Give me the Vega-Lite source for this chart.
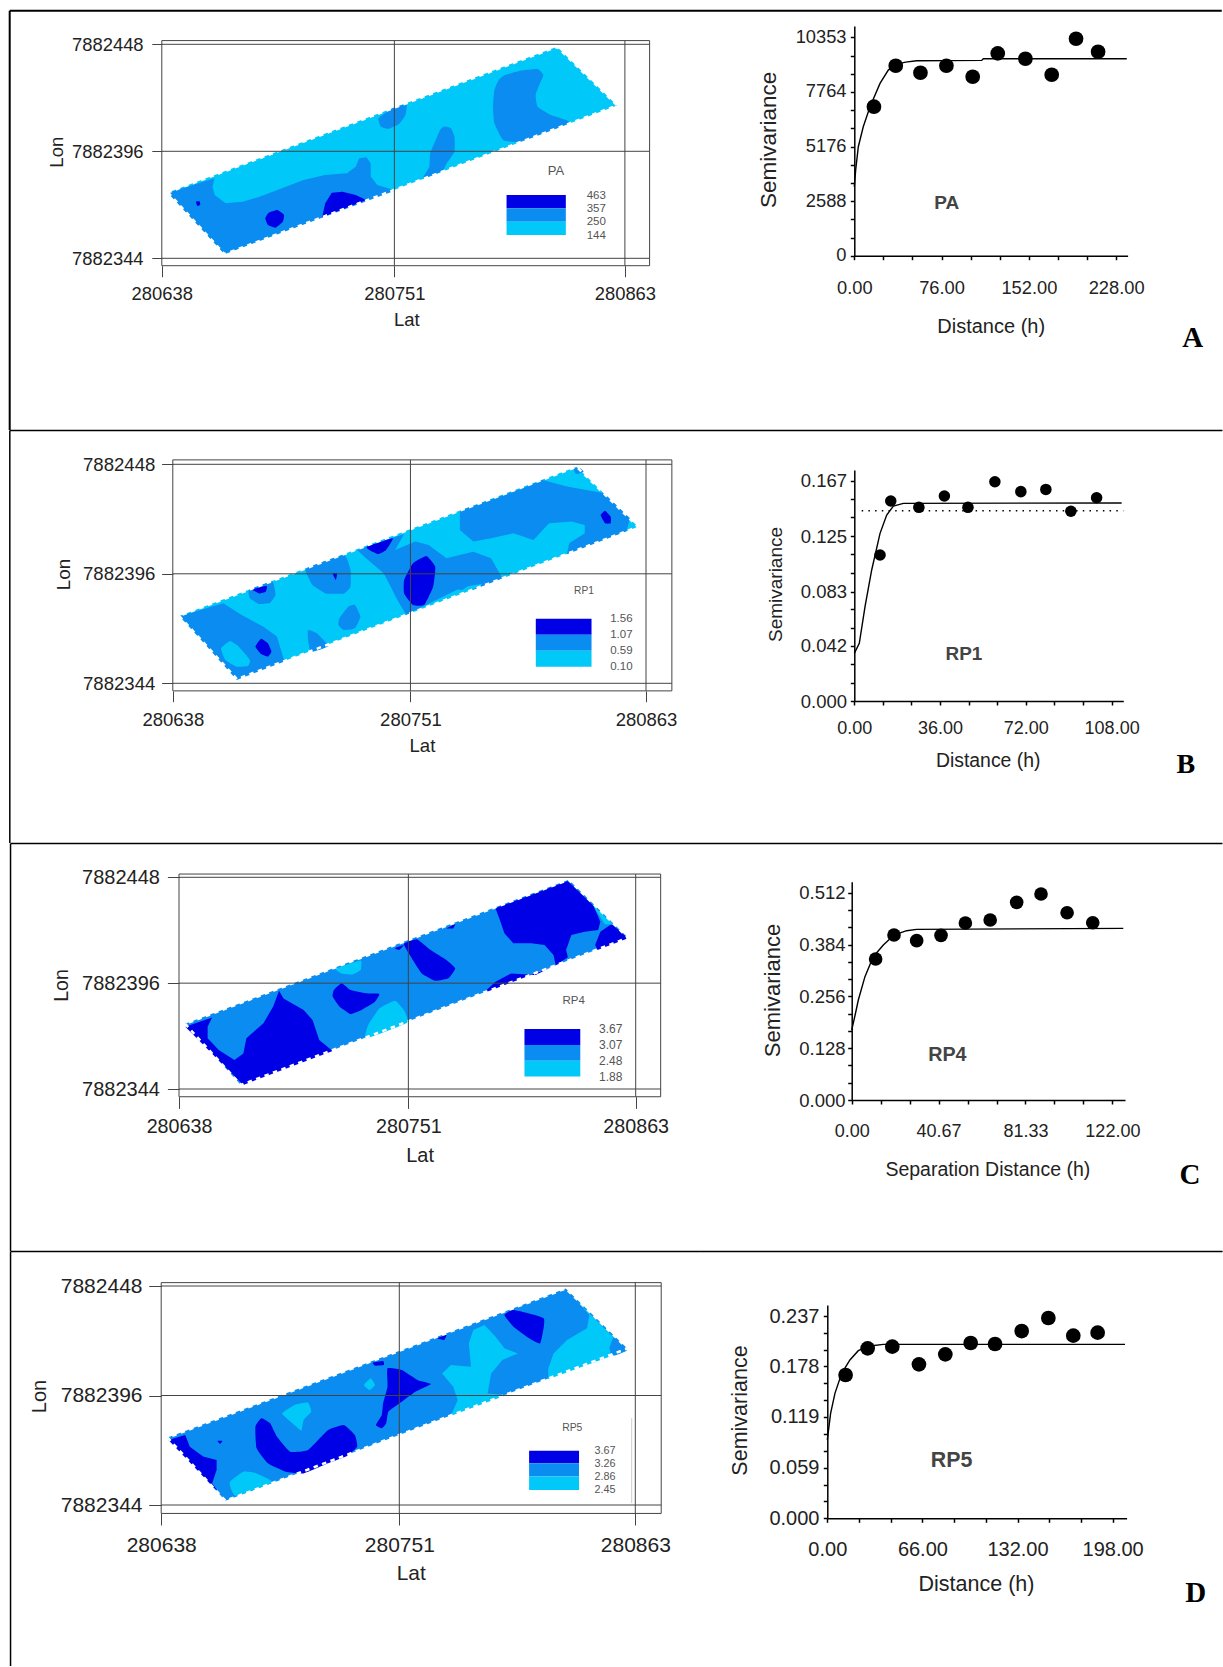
{"$schema":"https://vega.github.io/schema/vega-lite/v6.json","padding":0,"background":"white","config":{"view":{"stroke":null},"font":"Liberation Sans"},"columns":2,"spacing":0,"bounds":"flush","concat":[
{"width":700,"height":430,"encoding":{"x":{"field":"e","type":"quantitative","scale":{"domain":[0,225],"range":[161.8,624.9],"zero":false,"nice":false},"axis":{"values":[0,113,225],"labelExpr":"format(datum.value+280638,'d')","domain":false,"grid":false,"tickSize":11,"tickColor":"#444","labelPadding":7.5,"labelFontSize":18.4,"labelColor":"#222","labelFlush":false,"labelOverlap":false,"offset":-164.3,"title":"Lat","titleX":406.3,"titleY":53.3,"titleFontSize":18.5,"titleFontWeight":"normal","titleColor":"#222","titleBaseline":"middle","titleAlign":"center"}},"y":{"field":"n","type":"quantitative","scale":{"domain":[0,104],"range":[258.3,44.3],"zero":false,"nice":false},"axis":{"values":[0,52,104],"labelExpr":"format(datum.value+7882344,'d')","domain":false,"grid":false,"tickSize":10,"tickColor":"#444","labelPadding":8.7,"labelFontSize":18.4,"labelColor":"#222","labelOverlap":false,"labelFlush":false,"offset":-161.8,"title":"Lon","titleX":-105.4,"titleY":151.7,"titleAngle":-90,"titleFontSize":18.5,"titleFontWeight":"normal","titleColor":"#222","titleBaseline":"middle","titleAlign":"center"}}},"layer":[
{"data":{"values":[{"p":"f","l":"l","e":3,"n":32},{"p":"f","l":"l","e":30.5,"n":2},{"p":"f","l":"l","e":221.2,"n":74.3},{"p":"f","l":"l","e":192,"n":102.8},
{"p":"m1","l":"m","e":2.9,"n":31.9},{"p":"m1","l":"m","e":25.7,"n":38.9},{"p":"m1","l":"m","e":24.6,"n":34.8},{"p":"m1","l":"m","e":25.7,"n":30.8},{"p":"m1","l":"m","e":31,"n":26.7},{"p":"m1","l":"m","e":39.4,"n":27.5},{"p":"m1","l":"m","e":47.8,"n":30},{"p":"m1","l":"m","e":58.4,"n":34},{"p":"m1","l":"m","e":68.9,"n":38.1},{"p":"m1","l":"m","e":79.4,"n":40.5},{"p":"m1","l":"m","e":90,"n":41.3},{"p":"m1","l":"m","e":94.2,"n":44.5},{"p":"m1","l":"m","e":95.9,"n":48.6},{"p":"m1","l":"m","e":99.4,"n":49.1},{"p":"m1","l":"m","e":101.5,"n":46.2},{"p":"m1","l":"m","e":101.5,"n":39.7},{"p":"m1","l":"m","e":104.7,"n":35.6},{"p":"m1","l":"m","e":113.5,"n":32.9},{"p":"m1","l":"m","e":30.5,"n":2.1},
{"p":"d2","l":"d","e":77.9,"n":19.9},{"p":"d2","l":"d","e":79.4,"n":26.7},{"p":"d2","l":"d","e":82.6,"n":31.9},{"p":"d2","l":"d","e":87.8,"n":32.4},{"p":"d2","l":"d","e":94.2,"n":30.8},{"p":"d2","l":"d","e":99.4,"n":28.3}]},"mark":{"type":"line","strokeWidth":0,"interpolate":"linear-closed"},"encoding":{"fill":{"field":"l","type":"nominal","scale":{"domain":["d","m","l"],"range":["#0000e6","#0a8cf0","#00c8f8"]},"legend":null},"detail":{"field":"p"},"order":{"value":null}}},
{"data":{"values":[{"p":"m2","l":"m","e":111.6,"n":72.7},{"p":"m2","l":"m","e":118.8,"n":75},{"p":"m2","l":"m","e":118.4,"n":69.7},{"p":"m2","l":"m","e":115.2,"n":65.3},{"p":"m2","l":"m","e":110,"n":62.9},{"p":"m2","l":"m","e":106.4,"n":64},{"p":"m2","l":"m","e":105.3,"n":68},
{"p":"m3","l":"m","e":137.3,"n":64},{"p":"m3","l":"m","e":140.5,"n":63.2},{"p":"m3","l":"m","e":142.2,"n":59.1},{"p":"m3","l":"m","e":142.2,"n":51.8},{"p":"m3","l":"m","e":138.4,"n":46.2},{"p":"m3","l":"m","e":136.3,"n":42.3},{"p":"m3","l":"m","e":126.8,"n":38.7},{"p":"m3","l":"m","e":130,"n":44.5},{"p":"m3","l":"m","e":130.4,"n":51},{"p":"m3","l":"m","e":133.1,"n":57.5},{"p":"m3","l":"m","e":135.2,"n":62.4},
{"p":"m4","l":"m","e":166.8,"n":89.1},{"p":"m4","l":"m","e":174.2,"n":91.2},{"p":"m4","l":"m","e":182.6,"n":92},{"p":"m4","l":"m","e":185.4,"n":89.1},{"p":"m4","l":"m","e":183.7,"n":85},{"p":"m4","l":"m","e":181.6,"n":79.4},{"p":"m4","l":"m","e":182.6,"n":73.7},{"p":"m4","l":"m","e":189,"n":69.7},{"p":"m4","l":"m","e":198.4,"n":65.9},{"p":"m4","l":"m","e":174.2,"n":56.7},{"p":"m4","l":"m","e":165.8,"n":57.5},{"p":"m4","l":"m","e":161.6,"n":65.6},{"p":"m4","l":"m","e":160.9,"n":73.7},{"p":"m4","l":"m","e":161.6,"n":81.8},{"p":"m4","l":"m","e":163.7,"n":86.7},
{"p":"d1","l":"d","e":50.3,"n":19.4},{"p":"d1","l":"d","e":52,"n":22.2},{"p":"d1","l":"d","e":56.2,"n":23.5},{"p":"d1","l":"d","e":59.4,"n":21.1},{"p":"d1","l":"d","e":58.8,"n":17.8},{"p":"d1","l":"d","e":55.2,"n":14.9},{"p":"d1","l":"d","e":51.6,"n":16.2},
{"p":"d3","l":"d","e":16.6,"n":27.5},{"p":"d3","l":"d","e":18.3,"n":27.7},{"p":"d3","l":"d","e":18.7,"n":26.2},{"p":"d3","l":"d","e":17.3,"n":25.4}]},"mark":{"type":"line","strokeWidth":0,"interpolate":"cardinal-closed","tension":0.6},"encoding":{"fill":{"field":"l","type":"nominal","legend":null},"detail":{"field":"p"},"order":{"value":null}}},
{"data":{"values":[{"e":3,"n":32},{"e":30.5,"n":2},{"e":221.2,"n":74.3},{"e":192,"n":102.8}]},"mark":{"type":"line","color":"white","strokeWidth":2.5,"strokeDash":[4.5,4.5],"interpolate":"linear-closed"},"encoding":{"order":{"value":null}}},
{"data":{"values":[{"e":0,"e2":237,"n":105.8,"n2":105.8},{"e":0,"e2":237,"n":-3.6,"n2":-3.6},{"e":0,"e2":237,"n":104,"n2":104},{"e":0,"e2":237,"n":52,"n2":52},{"e":0,"e2":237,"n":0,"n2":0},{"e":0,"e2":0,"n":-3.6,"n2":105.8},{"e":113,"e2":113,"n":-3.6,"n2":105.8},{"e":225,"e2":225,"n":-3.6,"n2":105.8},{"e":237,"e2":237,"n":-3.6,"n2":105.8}]},"mark":{"type":"rule","color":"#444","strokeWidth":1},"encoding":{"x2":{"field":"e2"},"y2":{"field":"n2"}}},
{"data":{"values":[{"e":-73.9,"e2":261.5,"n":120.3,"n2":120.3},{"e":-73.9,"e2":-73.9,"n":120.3,"n2":-83.4}]},"mark":{"type":"rule","color":"#000","strokeWidth":2},"encoding":{"x2":{"field":"e2"},"y2":{"field":"n2"}}},
{"data":{"values":[{"e":167.5,"e2":196.3,"n":30.8,"n2":24.3,"l":"d"},{"e":167.5,"e2":196.3,"n":24.3,"n2":17.8,"l":"m"},{"e":167.5,"e2":196.3,"n":17.8,"n2":11.3,"l":"l"}]},"mark":{"type":"rect"},"encoding":{"x2":{"field":"e2"},"y2":{"field":"n2"},"fill":{"field":"l","type":"nominal","legend":null}}},
{"data":{"values":[{"e":211.1,"n":30.5,"t":"463"},{"e":211.1,"n":24,"t":"357"},{"e":211.1,"n":17.5,"t":"250"},{"e":211.1,"n":10.9,"t":"144"}]},"mark":{"type":"text","fontSize":11.5,"color":"#555"},"encoding":{"text":{"field":"t"}}},
{"data":{"values":[{"e":191.5,"n":42.4,"t":"PA"}]},"mark":{"type":"text","fontSize":13,"color":"#555"},"encoding":{"text":{"field":"t"}}}
]},
{"width":523,"height":430,"encoding":{"x":{"field":"h","type":"quantitative","scale":{"domain":[0,238],"range":[154.3,427.6],"zero":false,"nice":false},"axis":{"values":[0,25.33,50.67,76,101.33,126.67,152,177.33,202.67,228],"labelExpr":"indexof([0,76,152,228],datum.value)>=0?format(datum.value,'.2f'):''","grid":false,"domainColor":"#000","domainWidth":1.5,"tickColor":"#000","tickWidth":1.5,"tickSize":4,"labelPadding":19.5,"labelFontSize":18.3,"labelColor":"#222","labelFlush":false,"labelOverlap":false,"offset":-174.3,"title":"Distance (h)","titleX":290.7,"titleY":70.3,"titleFontSize":20,"titleFontWeight":"normal","titleColor":"#222","titleBaseline":"middle","titleAlign":"center","encoding":{"ticks":{"update":{"y":{"value":-4},"y2":{"value":3.5}}}}}},"y":{"field":"g","type":"quantitative","scale":{"domain":[0,10890],"range":[255.7,26],"zero":false,"nice":false},"axis":{"values":[0,862.67,1725.33,2588,3450.67,4313.33,5176,6038.67,6901.33,7764,8627,9490,10353],"labelExpr":"indexof([0,2588,5176,7764,10353],datum.value)>=0?format(datum.value,'d'):''","grid":false,"domainColor":"#000","domainWidth":1.5,"tickColor":"#000","tickWidth":1.5,"tickSize":4,"labelPadding":4.3,"labelFontSize":18.3,"labelColor":"#222","labelFlush":false,"labelOverlap":false,"offset":-154.3,"title":"Semivariance","titleX":-86,"titleY":139.3,"titleAngle":-90,"titleFontSize":22.5,"titleFontWeight":"normal","titleColor":"#222","titleBaseline":"middle","titleAlign":"center","encoding":{"ticks":{"update":{"x":{"value":-4},"x2":{"value":3.5}}}}}}},"layer":[
{"data":{"values":[{"h":-134.4,"h2":320,"g":11617,"g2":11617}]},"mark":{"type":"rule","color":"#000","strokeWidth":2},"encoding":{"x2":{"field":"h2"},"y2":{"field":"g2"}}},
{"data":{"values":[{"h":0,"g":3271},{"h":1.2,"g":4061},{"h":3.5,"g":5167},{"h":7.8,"g":6115},{"h":13.7,"g":7063},{"h":22.4,"g":8169},{"h":29.6,"g":8801},{"h":36.9,"g":9085},{"h":44.7,"g":9180},{"h":54.3,"g":9243},{"h":110.9,"g":9259},{"h":112.4,"g":9338},{"h":237.3,"g":9338}]},"mark":{"type":"line","color":"#000","strokeWidth":1.4}},
{"data":{"values":[{"h":17.1,"g":7063},{"h":36.1,"g":9006},{"h":57.6,"g":8674},{"h":80.2,"g":9006},{"h":103.1,"g":8485},{"h":124.9,"g":9591},{"h":149,"g":9338},{"h":171.9,"g":8579},{"h":193.1,"g":10286},{"h":212.3,"g":9670}]},"mark":{"type":"circle","color":"#000","opacity":1,"size":216}},
{"data":{"values":[{"h":80.5,"g":2481,"t":"PA"}]},"mark":{"type":"text","fontSize":19,"fontWeight":"bold","color":"#444"},"encoding":{"text":{"field":"t"}}},
{"data":{"values":[{"h":294.7,"g":-3902,"t":"A"}]},"mark":{"type":"text","font":"Liberation Serif","fontSize":29,"fontWeight":"bold","color":"#000"},"encoding":{"text":{"field":"t"}}}
]},
{"width":700,"height":413,"encoding":{"x":{"field":"e","type":"quantitative","scale":{"domain":[0,225],"range":[172.8,646],"zero":false,"nice":false},"axis":{"values":[0,113,225],"labelExpr":"format(datum.value+280638,'d')","domain":false,"grid":false,"tickSize":10.7,"tickColor":"#444","labelPadding":9,"labelFontSize":18.5,"labelColor":"#222","labelFlush":false,"labelOverlap":false,"offset":-152,"title":"Lat","titleX":421.9,"titleY":54,"titleFontSize":18.6,"titleFontWeight":"normal","titleColor":"#222","titleBaseline":"middle","titleAlign":"center"}},"y":{"field":"n","type":"quantitative","scale":{"domain":[0,104],"range":[253.3,34.3],"zero":false,"nice":false},"axis":{"values":[0,52,104],"labelExpr":"format(datum.value+7882344,'d')","domain":false,"grid":false,"tickSize":11.2,"tickColor":"#444","labelPadding":6.7,"labelFontSize":18.6,"labelColor":"#222","labelOverlap":false,"labelFlush":false,"offset":-172.8,"title":"Lon","titleX":-109.4,"titleY":144,"titleAngle":-90,"titleFontSize":18.8,"titleFontWeight":"normal","titleColor":"#222","titleBaseline":"middle","titleAlign":"center"}}},"layer":[
{"data":{"values":[{"p":"f","l":"l","e":3,"n":32},{"p":"f","l":"l","e":30.5,"n":2},{"p":"f","l":"l","e":221.2,"n":74.3},{"p":"f","l":"l","e":192,"n":102.8},
{"p":"m1","l":"m","e":3.4,"n":32},{"p":"m1","l":"m","e":24,"n":38},{"p":"m1","l":"m","e":32.5,"n":32.5},{"p":"m1","l":"m","e":43.1,"n":26.9},{"p":"m1","l":"m","e":49.5,"n":22.2},{"p":"m1","l":"m","e":53.1,"n":10.3},{"p":"m1","l":"m","e":30.4,"n":1.6},
{"p":"m5","l":"m","e":87.7,"n":63.3},{"p":"m5","l":"m","e":110,"n":70.9},{"p":"m5","l":"m","e":105.7,"n":63.3},{"p":"m5","l":"m","e":115.3,"n":67.3},{"p":"m5","l":"m","e":121.6,"n":65.7},{"p":"m5","l":"m","e":130.1,"n":59.4},{"p":"m5","l":"m","e":142.9,"n":62.5},{"p":"m5","l":"m","e":151.3,"n":59.4},{"p":"m5","l":"m","e":156.7,"n":49.9},{"p":"m5","l":"m","e":141.8,"n":44},{"p":"m5","l":"m","e":135.4,"n":44.6},{"p":"m5","l":"m","e":111,"n":32.5},{"p":"m5","l":"m","e":106.8,"n":39.6},{"p":"m5","l":"m","e":100.4,"n":52.2},{"p":"m5","l":"m","e":91.9,"n":59.4},
{"p":"m6","l":"m","e":136.5,"n":82},{"p":"m6","l":"m","e":168.3,"n":93.4},{"p":"m6","l":"m","e":175.8,"n":96.6},{"p":"m6","l":"m","e":187.4,"n":93.4},{"p":"m6","l":"m","e":205.1,"n":90.2},{"p":"m6","l":"m","e":217.4,"n":78.4},{"p":"m6","l":"m","e":215.7,"n":72.2},{"p":"m6","l":"m","e":187.4,"n":61.3},{"p":"m6","l":"m","e":188.5,"n":66.5},{"p":"m6","l":"m","e":195.9,"n":71.2},{"p":"m6","l":"m","e":195.9,"n":75.2},{"p":"m6","l":"m","e":189.6,"n":76.8},{"p":"m6","l":"m","e":178.9,"n":76},{"p":"m6","l":"m","e":171.5,"n":68.1},{"p":"m6","l":"m","e":162,"n":71.2},{"p":"m6","l":"m","e":151.3,"n":68.9},{"p":"m6","l":"m","e":142.9,"n":67.3},{"p":"m6","l":"m","e":136.5,"n":72.8}]},"mark":{"type":"line","strokeWidth":0,"interpolate":"linear-closed"},"encoding":{"fill":{"field":"l","type":"nominal","scale":{"domain":["d","m","l"],"range":["#0000e6","#0a8cf0","#00c8f8"]},"legend":null},"detail":{"field":"p"},"order":{"value":null}}},
{"data":{"values":[{"p":"b1","l":"m","e":36.3,"n":44.3},{"p":"b1","l":"m","e":47.3,"n":48.3},{"p":"b1","l":"m","e":48.8,"n":41.9},{"p":"b1","l":"m","e":46.3,"n":38.3},{"p":"b1","l":"m","e":41,"n":37.7},{"p":"b1","l":"m","e":36.7,"n":40.4},
{"p":"b2","l":"m","e":63.5,"n":54.6},{"p":"b2","l":"m","e":81.3,"n":60.9},{"p":"b2","l":"m","e":84.5,"n":53.8},{"p":"b2","l":"m","e":84.5,"n":45.9},{"p":"b2","l":"m","e":81.3,"n":42.7},{"p":"b2","l":"m","e":72.8,"n":42.7},{"p":"b2","l":"m","e":66.4,"n":46.7},{"p":"b2","l":"m","e":64.3,"n":50.7},
{"p":"b3","l":"m","e":79.2,"n":30.9},{"p":"b3","l":"m","e":83.4,"n":36.4},{"p":"b3","l":"m","e":86.6,"n":37.2},{"p":"b3","l":"m","e":89.2,"n":31.7},{"p":"b3","l":"m","e":86.6,"n":26.1},{"p":"b3","l":"m","e":81.3,"n":25.3},{"p":"b3","l":"m","e":78.8,"n":27.7},
{"p":"b4","l":"m","e":64.3,"n":25.3},{"p":"b4","l":"m","e":68.6,"n":23.7},{"p":"b4","l":"m","e":73.9,"n":17.7},{"p":"b4","l":"m","e":65.8,"n":14.9},{"p":"b4","l":"m","e":64.3,"n":20.6},
{"p":"b5","l":"m","e":190.6,"n":102.1},{"p":"b5","l":"m","e":193.8,"n":102.1},{"p":"b5","l":"m","e":195.3,"n":100.5},{"p":"b5","l":"m","e":191.7,"n":99.4},
{"p":"l1","l":"l","e":22.9,"n":16.6},{"p":"l1","l":"l","e":27.2,"n":20.1},{"p":"l1","l":"l","e":31.4,"n":17.4},{"p":"l1","l":"l","e":36.7,"n":11.1},{"p":"l1","l":"l","e":35.7,"n":8.2},{"p":"l1","l":"l","e":30.4,"n":7.9},{"p":"l1","l":"l","e":25,"n":11.1},
{"p":"l2","l":"l","e":136.5,"n":43.5},{"p":"l2","l":"l","e":140.7,"n":46.2},{"p":"l2","l":"l","e":147.2,"n":47.2},{"p":"l2","l":"l","e":142,"n":44.3},
{"p":"d1","l":"d","e":39.3,"n":17.4},{"p":"d1","l":"d","e":42,"n":21.1},{"p":"d1","l":"d","e":45.2,"n":19},{"p":"d1","l":"d","e":46.9,"n":15},{"p":"d1","l":"d","e":45.2,"n":12.7},{"p":"d1","l":"d","e":42,"n":13.9},
{"p":"d2","l":"d","e":37.8,"n":44.6},{"p":"d2","l":"d","e":44.6,"n":46.2},{"p":"d2","l":"d","e":44.2,"n":43.5},{"p":"d2","l":"d","e":41,"n":42.7},
{"p":"d3","l":"d","e":76,"n":52.2},{"p":"d3","l":"d","e":78.1,"n":52.2},{"p":"d3","l":"d","e":77.5,"n":49.1},
{"p":"d4","l":"d","e":110,"n":49.1},{"p":"d4","l":"d","e":114.2,"n":57},{"p":"d4","l":"d","e":120.6,"n":60.5},{"p":"d4","l":"d","e":124.8,"n":55.4},{"p":"d4","l":"d","e":123.8,"n":45.9},{"p":"d4","l":"d","e":119.5,"n":37.2},{"p":"d4","l":"d","e":114.2,"n":37.2},{"p":"d4","l":"d","e":110,"n":42.7},
{"p":"d5","l":"d","e":92.3,"n":64.9},{"p":"d5","l":"d","e":104.6,"n":68.9},{"p":"d5","l":"d","e":101.4,"n":63.3},{"p":"d5","l":"d","e":97.8,"n":61.4},{"p":"d5","l":"d","e":94,"n":63},
{"p":"d6","l":"d","e":203.4,"n":79.9},{"p":"d6","l":"d","e":205.5,"n":82},{"p":"d6","l":"d","e":208.2,"n":79.2},{"p":"d6","l":"d","e":208.2,"n":76},{"p":"d6","l":"d","e":205.5,"n":76}]},"mark":{"type":"line","strokeWidth":0,"interpolate":"cardinal-closed","tension":0.6},"encoding":{"fill":{"field":"l","type":"nominal","legend":null},"detail":{"field":"p"},"order":{"value":null}}},
{"data":{"values":[{"e":3,"n":32},{"e":30.5,"n":2},{"e":221.2,"n":74.3},{"e":192,"n":102.8}]},"mark":{"type":"line","color":"white","strokeWidth":2.5,"strokeDash":[4.5,4.5],"interpolate":"linear-closed"},"encoding":{"order":{"value":null}}},
{"data":{"values":[{"e":0,"e2":237.3,"n":106.1,"n2":106.1},{"e":0,"e2":237.3,"n":-3.6,"n2":-3.6},{"e":0,"e2":237.3,"n":104,"n2":104},{"e":0,"e2":237.3,"n":52,"n2":52},{"e":0,"e2":237.3,"n":0,"n2":0},{"e":0,"e2":0,"n":-3.6,"n2":106.1},{"e":113,"e2":113,"n":-3.6,"n2":106.1},{"e":225,"e2":225,"n":-3.6,"n2":106.1},{"e":237.3,"e2":237.3,"n":-3.6,"n2":106.1}]},"mark":{"type":"rule","color":"#444","strokeWidth":1},"encoding":{"x2":{"field":"e2"},"y2":{"field":"n2"}}},
{"data":{"values":[{"e":-77.5,"e2":250.7,"n":120,"n2":120},{"e":-77.5,"e2":-77.5,"n":120,"n2":-75.8}]},"mark":{"type":"rule","color":"#000","strokeWidth":1.5},"encoding":{"x2":{"field":"e2"},"y2":{"field":"n2"}}},
{"data":{"values":[{"e":172.6,"e2":199.1,"n":30.6,"n2":23,"l":"d"},{"e":172.6,"e2":199.1,"n":23,"n2":15.5,"l":"m"},{"e":172.6,"e2":199.1,"n":15.5,"n2":7.9,"l":"l"}]},"mark":{"type":"rect"},"encoding":{"x2":{"field":"e2"},"y2":{"field":"n2"},"fill":{"field":"l","type":"nominal","legend":null}}},
{"data":{"values":[{"e":213.3,"n":30.6,"t":"1.56"},{"e":213.3,"n":23,"t":"1.07"},{"e":213.3,"n":15.4,"t":"0.59"},{"e":213.3,"n":7.6,"t":"0.10"}]},"mark":{"type":"text","fontSize":11.5,"color":"#555"},"encoding":{"text":{"field":"t"}}},
{"data":{"values":[{"e":195.5,"n":43.8,"t":"RP1"}]},"mark":{"type":"text","fontSize":10.2,"color":"#555"},"encoding":{"text":{"field":"t"}}}
]},
{"width":523,"height":413,"encoding":{"x":{"field":"h","type":"quantitative","scale":{"domain":[0,112.9],"range":[154.3,423.3],"zero":false,"nice":false},"axis":{"values":[0,12,24,36,48,60,72,84,96,108],"labelExpr":"indexof([0,36,72,108],datum.value)>=0?format(datum.value,'.2f'):''","grid":false,"domainColor":"#000","domainWidth":1.5,"tickColor":"#000","tickWidth":1.5,"tickSize":4,"labelPadding":14.5,"labelFontSize":18,"labelColor":"#222","labelFlush":false,"labelOverlap":false,"offset":-142,"title":"Distance (h)","titleX":287.7,"titleY":59.7,"titleFontSize":19.4,"titleFontWeight":"normal","titleColor":"#222","titleBaseline":"middle","titleAlign":"center","encoding":{"ticks":{"update":{"y":{"value":-4},"y2":{"value":3.5}}}}}},"y":{"field":"g","type":"quantitative","scale":{"domain":[0,0.1751],"range":[271,40],"zero":false,"nice":false},"axis":{"values":[0,0.0139,0.0278,0.042,0.0556,0.0696,0.083,0.0974,0.1113,0.125,0.1392,0.1531,0.167],"labelExpr":"indexof([0,0.042,0.083,0.125,0.167],datum.value)>=0?format(datum.value,'.3f'):''","grid":false,"domainColor":"#000","domainWidth":1.5,"tickColor":"#000","tickWidth":1.5,"tickSize":4,"labelPadding":3.7,"labelFontSize":18.5,"labelColor":"#222","labelFlush":false,"labelOverlap":false,"offset":-154.3,"title":"Semivariance","titleX":-78.6,"titleY":154,"titleAngle":-90,"titleFontSize":19,"titleFontWeight":"normal","titleColor":"#222","titleBaseline":"middle","titleAlign":"center","encoding":{"ticks":{"update":{"x":{"value":-4},"x2":{"value":3.5}}}}}}},"layer":[
{"data":{"values":[{"h":-64.8,"h2":154.5,"g":0.2051,"g2":0.2051}]},"mark":{"type":"rule","color":"#000","strokeWidth":1.5},"encoding":{"x2":{"field":"h2"},"y2":{"field":"g2"}}},
{"data":{"values":[{"h":3.1,"g":0.1443},{"h":112.9,"g":0.1443}]},"mark":{"type":"line","color":"#000","strokeWidth":1.5,"strokeDash":[1.5,5.2]}},
{"data":{"values":[{"h":0,"g":0.0361},{"h":2.1,"g":0.0437},{"h":4.5,"g":0.0715},{"h":7.3,"g":0.0993},{"h":10.8,"g":0.1271},{"h":13.6,"g":0.141},{"h":16.4,"g":0.1478},{"h":20.6,"g":0.1498},{"h":112.2,"g":0.1501}]},"mark":{"type":"line","color":"#000","strokeWidth":1.4}},
{"data":{"values":[{"h":10.8,"g":0.1107},{"h":15.3,"g":0.1516},{"h":27.1,"g":0.1468},{"h":37.8,"g":0.1554},{"h":47.7,"g":0.1468},{"h":59,"g":0.1662},{"h":69.9,"g":0.1587},{"h":80.4,"g":0.1604},{"h":90.9,"g":0.1438},{"h":101.7,"g":0.1541}]},"mark":{"type":"circle","color":"#000","opacity":1,"size":133}},
{"data":{"values":[{"h":46,"g":0.0356,"t":"RP1"}]},"mark":{"type":"text","fontSize":18.9,"fontWeight":"bold","color":"#444"},"encoding":{"text":{"field":"t"}}},
{"data":{"values":[{"h":139.1,"g":-0.0485,"t":"B"}]},"mark":{"type":"text","font":"Liberation Serif","fontSize":28,"fontWeight":"bold","color":"#000"},"encoding":{"text":{"field":"t"}}}
]},
{"width":700,"height":408,"encoding":{"x":{"field":"e","type":"quantitative","scale":{"domain":[0,225],"range":[179,635.7],"zero":false,"nice":false},"axis":{"values":[0,113,225],"labelExpr":"format(datum.value+280638,'d')","domain":false,"grid":false,"tickSize":11.7,"tickColor":"#444","labelPadding":8.5,"labelFontSize":19.7,"labelColor":"#222","labelFlush":false,"labelOverlap":false,"offset":-154.3,"title":"Lat","titleX":419.6,"titleY":58.3,"titleFontSize":19.9,"titleFontWeight":"normal","titleColor":"#222","titleBaseline":"middle","titleAlign":"center"}},"y":{"field":"n","type":"quantitative","scale":{"domain":[0,104],"range":[246,34.3],"zero":false,"nice":false},"axis":{"values":[0,52,104],"labelExpr":"format(datum.value+7882344,'d')","domain":false,"grid":false,"tickSize":11.6,"tickColor":"#444","labelPadding":8,"labelFontSize":20,"labelColor":"#222","labelOverlap":false,"labelFlush":false,"offset":-179,"title":"Lon","titleX":-117.8,"titleY":142,"titleAngle":-90,"titleFontSize":19.6,"titleFontWeight":"normal","titleColor":"#222","titleBaseline":"middle","titleAlign":"center"}}},"layer":[
{"data":{"values":[{"p":"f","l":"m","e":3,"n":32},{"p":"f","l":"m","e":30.5,"n":2},{"p":"f","l":"m","e":221.2,"n":74.3},{"p":"f","l":"m","e":192,"n":102.8},
{"p":"d1","l":"d","e":3.1,"n":30.6},{"p":"d1","l":"d","e":16.3,"n":35.1},{"p":"d1","l":"d","e":14.1,"n":30.6},{"p":"d1","l":"d","e":14.1,"n":24.9},{"p":"d1","l":"d","e":19.6,"n":19.2},{"p":"d1","l":"d","e":27.3,"n":14.2},{"p":"d1","l":"d","e":31.7,"n":17.5},{"p":"d1","l":"d","e":33.2,"n":24.9},{"p":"d1","l":"d","e":41.6,"n":32.3},{"p":"d1","l":"d","e":46.4,"n":40.5},{"p":"d1","l":"d","e":49.3,"n":48.3},{"p":"d1","l":"d","e":51.5,"n":44.5},{"p":"d1","l":"d","e":61.4,"n":38.8},{"p":"d1","l":"d","e":65.8,"n":33.9},{"p":"d1","l":"d","e":69.1,"n":24.1},{"p":"d1","l":"d","e":75.7,"n":18.7},{"p":"d1","l":"d","e":31.7,"n":2},
{"p":"d4","l":"d","e":155.9,"n":88.8},{"p":"d4","l":"d","e":191.6,"n":102.2},{"p":"d4","l":"d","e":204.3,"n":89.9},{"p":"d4","l":"d","e":207.6,"n":82.2},{"p":"d4","l":"d","e":206.5,"n":78.1},{"p":"d4","l":"d","e":199.9,"n":77.3},{"p":"d4","l":"d","e":193.3,"n":75.7},{"p":"d4","l":"d","e":190.7,"n":68.3},{"p":"d4","l":"d","e":191.6,"n":64.7},{"p":"d4","l":"d","e":185.6,"n":60.8},{"p":"d4","l":"d","e":184.5,"n":65.8},{"p":"d4","l":"d","e":180.1,"n":70.8},{"p":"d4","l":"d","e":173.5,"n":71.6},{"p":"d4","l":"d","e":164.7,"n":71.6},{"p":"d4","l":"d","e":160.3,"n":76.5},{"p":"d4","l":"d","e":158.1,"n":83},
{"p":"d5","l":"d","e":205,"n":70.7},{"p":"d5","l":"d","e":207.6,"n":77.3},{"p":"d5","l":"d","e":213.1,"n":81.1},{"p":"d5","l":"d","e":221.2,"n":74},{"p":"d5","l":"d","e":206.2,"n":68.3},
{"p":"d6","l":"d","e":149.8,"n":47},{"p":"d6","l":"d","e":155.9,"n":52.7},{"p":"d6","l":"d","e":163.6,"n":56.8},{"p":"d6","l":"d","e":175.7,"n":56},{"p":"d6","l":"d","e":183.4,"n":59.8}]},"mark":{"type":"line","strokeWidth":0,"interpolate":"linear-closed"},"encoding":{"fill":{"field":"l","type":"nominal","scale":{"domain":["d","m","l"],"range":["#0000e6","#0a8cf0","#00c8f8"]},"legend":null},"detail":{"field":"p"},"order":{"value":null}}},
{"data":{"values":[{"p":"l1","l":"l","e":92.1,"n":24.9},{"p":"l1","l":"l","e":93.2,"n":31.4},{"p":"l1","l":"l","e":98.7,"n":39.6},{"p":"l1","l":"l","e":106.4,"n":43.4},{"p":"l1","l":"l","e":110.8,"n":38.8},{"p":"l1","l":"l","e":112.4,"n":32.6},
{"p":"l2","l":"l","e":77.2,"n":59.1},{"p":"l2","l":"l","e":89.5,"n":63.1},{"p":"l2","l":"l","e":89.5,"n":58.5},{"p":"l2","l":"l","e":85.5,"n":56.3},{"p":"l2","l":"l","e":80.1,"n":56.8},
{"p":"l3","l":"l","e":204.3,"n":89.8},{"p":"l3","l":"l","e":213.8,"n":81.1},{"p":"l3","l":"l","e":209.8,"n":81.1},{"p":"l3","l":"l","e":206.9,"n":85.5},
{"p":"d2","l":"d","e":76.3,"n":48.6},{"p":"d2","l":"d","e":80.1,"n":51.9},{"p":"d2","l":"d","e":84.5,"n":48.6},{"p":"d2","l":"d","e":92.1,"n":47},{"p":"d2","l":"d","e":98.7,"n":46.7},{"p":"d2","l":"d","e":96.5,"n":42.9},{"p":"d2","l":"d","e":89.9,"n":38.8},{"p":"d2","l":"d","e":84.5,"n":36.8},{"p":"d2","l":"d","e":79,"n":40.5},{"p":"d2","l":"d","e":75.7,"n":45.4},
{"p":"d3","l":"d","e":110.8,"n":71.2},{"p":"d3","l":"d","e":117.4,"n":73.5},{"p":"d3","l":"d","e":124,"n":68.3},{"p":"d3","l":"d","e":131.7,"n":63.4},{"p":"d3","l":"d","e":136.1,"n":59.3},{"p":"d3","l":"d","e":132.8,"n":54.4},{"p":"d3","l":"d","e":126.2,"n":53.2},{"p":"d3","l":"d","e":119.6,"n":56.8},{"p":"d3","l":"d","e":115.2,"n":63.4},
{"p":"d7","l":"d","e":106.4,"n":69.1},{"p":"d7","l":"d","e":110.8,"n":70.7},{"p":"d7","l":"d","e":108.6,"n":68.3},
{"p":"d8","l":"d","e":131.7,"n":78.9},{"p":"d8","l":"d","e":136.1,"n":81.1},{"p":"d8","l":"d","e":135,"n":78.9}]},"mark":{"type":"line","strokeWidth":0,"interpolate":"cardinal-closed","tension":0.6},"encoding":{"fill":{"field":"l","type":"nominal","legend":null},"detail":{"field":"p"},"order":{"value":null}}},
{"data":{"values":[{"e":3,"n":32},{"e":30.5,"n":2},{"e":221.2,"n":74.3},{"e":192,"n":102.8}]},"mark":{"type":"line","color":"white","strokeWidth":2.5,"strokeDash":[4.5,4.5],"interpolate":"linear-closed"},"encoding":{"order":{"value":null}}},
{"data":{"values":[{"e":0,"e2":237.3,"n":105.6,"n2":105.6},{"e":0,"e2":237.3,"n":-3.8,"n2":-3.8},{"e":0,"e2":237.3,"n":104,"n2":104},{"e":0,"e2":237.3,"n":52,"n2":52},{"e":0,"e2":237.3,"n":0,"n2":0},{"e":0,"e2":0,"n":-3.8,"n2":105.6},{"e":113,"e2":113,"n":-3.8,"n2":105.6},{"e":225,"e2":225,"n":-3.8,"n2":105.6},{"e":237.3,"e2":237.3,"n":-3.8,"n2":105.6}]},"mark":{"type":"rule","color":"#444","strokeWidth":1},"encoding":{"x2":{"field":"e2"},"y2":{"field":"n2"}}},
{"data":{"values":[{"e":-83,"e2":256.7,"n":120.6,"n2":120.6},{"e":-83,"e2":-83,"n":120.6,"n2":-79.6}]},"mark":{"type":"rule","color":"#000","strokeWidth":1.5},"encoding":{"x2":{"field":"e2"},"y2":{"field":"n2"}}},
{"data":{"values":[{"e":170.2,"e2":197.7,"n":29.5,"n2":21.6,"l":"d"},{"e":170.2,"e2":197.7,"n":21.6,"n2":13.9,"l":"m"},{"e":170.2,"e2":197.7,"n":13.9,"n2":6.1,"l":"l"}]},"mark":{"type":"rect"},"encoding":{"x2":{"field":"e2"},"y2":{"field":"n2"},"fill":{"field":"l","type":"nominal","legend":null}}},
{"data":{"values":[{"e":212.7,"n":29.3,"t":"3.67"},{"e":212.7,"n":21.6,"t":"3.07"},{"e":212.7,"n":13.9,"t":"2.48"},{"e":212.7,"n":6.1,"t":"1.88"}]},"mark":{"type":"text","fontSize":12,"color":"#555"},"encoding":{"text":{"field":"t"}}},
{"data":{"values":[{"e":194.4,"n":43.4,"t":"RP4"}]},"mark":{"type":"text","fontSize":11.5,"color":"#555"},"encoding":{"text":{"field":"t"}}}
]},
{"width":523,"height":408,"encoding":{"x":{"field":"h","type":"quantitative","scale":{"domain":[0,127.9],"range":[151.7,425],"zero":false,"nice":false},"axis":{"values":[0,13.56,27.11,40.67,54.22,67.78,81.33,94.89,108.44,122],"labelExpr":"indexof([0,40.67,81.33,122],datum.value)>=0?format(datum.value,'.2f'):''","grid":false,"domainColor":"#000","domainWidth":1.5,"tickColor":"#000","tickWidth":1.5,"tickSize":4,"labelPadding":18.8,"labelFontSize":18,"labelColor":"#222","labelFlush":false,"labelOverlap":false,"offset":-151,"title":"Separation Distance (h)","titleX":287.3,"titleY":69,"titleFontSize":19.5,"titleFontWeight":"normal","titleColor":"#222","titleBaseline":"middle","titleAlign":"center","encoding":{"ticks":{"update":{"y":{"value":-4},"y2":{"value":3.5}}}}}},"y":{"field":"g","type":"quantitative","scale":{"domain":[0,0.5392],"range":[257,38.7],"zero":false,"nice":false},"axis":{"values":[0,0.0427,0.0853,0.128,0.1707,0.2133,0.256,0.2987,0.3413,0.384,0.4267,0.4693,0.512],"labelExpr":"indexof([0,0.128,0.256,0.384,0.512],datum.value)>=0?format(datum.value,'.3f'):''","grid":false,"domainColor":"#000","domainWidth":1.5,"tickColor":"#000","tickWidth":1.5,"tickSize":4,"labelPadding":2.7,"labelFontSize":18.5,"labelColor":"#222","labelFlush":false,"labelOverlap":false,"offset":-151.7,"title":"Semivariance","titleX":-79.4,"titleY":147,"titleAngle":-90,"titleFontSize":22,"titleFontWeight":"normal","titleColor":"#222","titleBaseline":"middle","titleAlign":"center","encoding":{"ticks":{"update":{"x":{"value":-4},"x2":{"value":3.5}}}}}}},"layer":[
{"data":{"values":[{"h":-71,"h2":173.5,"g":0.6335,"g2":0.6335}]},"mark":{"type":"rule","color":"#000","strokeWidth":1.5},"encoding":{"x2":{"field":"h2"},"y2":{"field":"g2"}}},
{"data":{"values":[{"h":0,"g":0.1729},{"h":1.6,"g":0.2099},{"h":3.1,"g":0.247},{"h":6.2,"g":0.3046},{"h":10.1,"g":0.354},{"h":14.8,"g":0.3828},{"h":19.8,"g":0.4075},{"h":25.7,"g":0.4182},{"h":30.4,"g":0.4215},{"h":127.1,"g":0.4239}]},"mark":{"type":"line","color":"#000","strokeWidth":1.4}},
{"data":{"values":[{"h":11.2,"g":0.3482},{"h":19.8,"g":0.4075},{"h":30.4,"g":0.3935},{"h":41.8,"g":0.4067},{"h":53.2,"g":0.4371},{"h":64.8,"g":0.4445},{"h":77.2,"g":0.4882},{"h":88.6,"g":0.5087},{"h":100.8,"g":0.4626},{"h":112.8,"g":0.4379}]},"mark":{"type":"circle","color":"#000","opacity":1,"size":186}},
{"data":{"values":[{"h":44.8,"g":0.1111,"t":"RP4"}]},"mark":{"type":"text","fontSize":19.7,"fontWeight":"bold","color":"#444"},"encoding":{"text":{"field":"t"}}},
{"data":{"values":[{"h":158.3,"g":-0.1852,"t":"C"}]},"mark":{"type":"text","font":"Liberation Serif","fontSize":29,"fontWeight":"bold","color":"#000"},"encoding":{"text":{"field":"t"}}}
]},
{"width":700,"height":416,"encoding":{"x":{"field":"e","type":"quantitative","scale":{"domain":[0,225],"range":[161.2,635.3],"zero":false,"nice":false},"axis":{"values":[0,113,225],"labelExpr":"format(datum.value+280638,'d')","domain":false,"grid":false,"tickSize":11.7,"tickColor":"#444","labelPadding":9.7,"labelFontSize":21,"labelColor":"#222","labelFlush":false,"labelOverlap":false,"offset":-153.7,"title":"Lat","titleX":410.7,"titleY":60,"titleFontSize":20.9,"titleFontWeight":"normal","titleColor":"#222","titleBaseline":"middle","titleAlign":"center"}},"y":{"field":"n","type":"quantitative","scale":{"domain":[0,104],"range":[254,35],"zero":false,"nice":false},"axis":{"values":[0,52,104],"labelExpr":"format(datum.value+7882344,'d')","domain":false,"grid":false,"tickSize":12.5,"tickColor":"#444","labelPadding":6.7,"labelFontSize":21,"labelColor":"#222","labelOverlap":false,"labelFlush":false,"offset":-161.2,"title":"Lon","titleX":-121.9,"titleY":145,"titleAngle":-90,"titleFontSize":20,"titleFontWeight":"normal","titleColor":"#222","titleBaseline":"middle","titleAlign":"center"}}},"layer":[
{"data":{"values":[{"p":"f","l":"m","e":3,"n":32},{"p":"f","l":"m","e":30.5,"n":2},{"p":"f","l":"m","e":221.2,"n":74.3},{"p":"f","l":"m","e":192,"n":102.8},
{"p":"l4","l":"l","e":133.3,"n":62.5},{"p":"l4","l":"l","e":137.5,"n":66.5},{"p":"l4","l":"l","e":147,"n":65.7},{"p":"l4","l":"l","e":146,"n":76.8},{"p":"l4","l":"l","e":148.1,"n":83.1},{"p":"l4","l":"l","e":153.4,"n":85.5},{"p":"l4","l":"l","e":158.7,"n":79.9},{"p":"l4","l":"l","e":162.9,"n":74.4},{"p":"l4","l":"l","e":169.3,"n":72},{"p":"l4","l":"l","e":161.9,"n":68.9},{"p":"l4","l":"l","e":156.6,"n":62.5},{"p":"l4","l":"l","e":154.9,"n":53},{"p":"l4","l":"l","e":164,"n":52.2},{"p":"l4","l":"l","e":137.5,"n":42.4},{"p":"l4","l":"l","e":140.7,"n":49.9},{"p":"l4","l":"l","e":138.6,"n":56.2},
{"p":"l5","l":"l","e":196.8,"n":97.4},{"p":"l5","l":"l","e":214.8,"n":79.6},{"p":"l5","l":"l","e":212.7,"n":70.4},{"p":"l5","l":"l","e":183.7,"n":59.7},{"p":"l5","l":"l","e":183.7,"n":64.9},{"p":"l5","l":"l","e":186.2,"n":72},{"p":"l5","l":"l","e":192.6,"n":78.4},{"p":"l5","l":"l","e":202.1,"n":83.9},{"p":"l5","l":"l","e":203.2,"n":90.2},
{"p":"d1","l":"d","e":3.4,"n":30.9},{"p":"d1","l":"d","e":11.4,"n":33.2},{"p":"d1","l":"d","e":13.6,"n":27.7},{"p":"d1","l":"d","e":19.9,"n":23},{"p":"d1","l":"d","e":26.3,"n":21.4},{"p":"d1","l":"d","e":26.3,"n":16.6},{"p":"d1","l":"d","e":24.2,"n":10.3},{"p":"d1","l":"d","e":27.3,"n":5.9}]},"mark":{"type":"line","strokeWidth":0,"interpolate":"linear-closed"},"encoding":{"fill":{"field":"l","type":"nominal","scale":{"domain":["d","m","l"],"range":["#0000e6","#0a8cf0","#00c8f8"]},"legend":null},"detail":{"field":"p"},"order":{"value":null}}},
{"data":{"values":[{"p":"m7","l":"m","e":214.8,"n":79.6},{"p":"m7","l":"m","e":221.2,"n":73.6},{"p":"m7","l":"m","e":214.8,"n":70.9},{"p":"m7","l":"m","e":212.7,"n":74.4},
{"p":"l1","l":"l","e":32.6,"n":11.1},{"p":"l1","l":"l","e":39,"n":15.8},{"p":"l1","l":"l","e":45.3,"n":15},{"p":"l1","l":"l","e":52.8,"n":10.8},{"p":"l1","l":"l","e":35.8,"n":4.3},{"p":"l1","l":"l","e":33.3,"n":7.1},
{"p":"l2","l":"l","e":57.4,"n":43.5},{"p":"l2","l":"l","e":63.3,"n":47.5},{"p":"l2","l":"l","e":69.7,"n":48.6},{"p":"l2","l":"l","e":71.2,"n":44.3},{"p":"l2","l":"l","e":67.6,"n":40.4},{"p":"l2","l":"l","e":66.5,"n":35.3},{"p":"l2","l":"l","e":62.3,"n":38.8},
{"p":"l3","l":"l","e":96.2,"n":57},{"p":"l3","l":"l","e":99.4,"n":60.2},{"p":"l3","l":"l","e":101.5,"n":57},{"p":"l3","l":"l","e":98.9,"n":54.6},
{"p":"d2","l":"d","e":44.7,"n":37.2},{"p":"d2","l":"d","e":47.5,"n":41.2},{"p":"d2","l":"d","e":51.7,"n":38.8},{"p":"d2","l":"d","e":54.9,"n":32.5},{"p":"d2","l":"d","e":61.2,"n":25.3},{"p":"d2","l":"d","e":69.7,"n":26.1},{"p":"d2","l":"d","e":79.2,"n":35.6},{"p":"d2","l":"d","e":86.7,"n":38},{"p":"d2","l":"d","e":91.9,"n":33.2},{"p":"d2","l":"d","e":93,"n":27.7},{"p":"d2","l":"d","e":87.7,"n":23},{"p":"d2","l":"d","e":79.2,"n":19.8},{"p":"d2","l":"d","e":67.6,"n":15},{"p":"d2","l":"d","e":59.1,"n":15.8},{"p":"d2","l":"d","e":50.6,"n":19.8},{"p":"d2","l":"d","e":45.3,"n":26.9},
{"p":"d3","l":"d","e":107.4,"n":64.9},{"p":"d3","l":"d","e":114.2,"n":64.1},{"p":"d3","l":"d","e":121.6,"n":59.4},{"p":"d3","l":"d","e":128,"n":57.5},{"p":"d3","l":"d","e":120.6,"n":53.8},{"p":"d3","l":"d","e":113.1,"n":48.3},{"p":"d3","l":"d","e":107.8,"n":44.3},{"p":"d3","l":"d","e":106.8,"n":38.8},{"p":"d3","l":"d","e":104.7,"n":36.4},{"p":"d3","l":"d","e":101.9,"n":38},{"p":"d3","l":"d","e":104.7,"n":42.7},{"p":"d3","l":"d","e":105.3,"n":48.3},{"p":"d3","l":"d","e":107.4,"n":56.2},
{"p":"d4","l":"d","e":162.9,"n":90.2},{"p":"d4","l":"d","e":167.2,"n":92.6},{"p":"d4","l":"d","e":181.6,"n":88.6},{"p":"d4","l":"d","e":179.9,"n":76.8},{"p":"d4","l":"d","e":174.6,"n":79.2},{"p":"d4","l":"d","e":167.2,"n":84.7},
{"p":"d5","l":"d","e":26.7,"n":30.4},{"p":"d5","l":"d","e":29,"n":30.4},{"p":"d5","l":"d","e":28,"n":29},
{"p":"d6","l":"d","e":100.4,"n":67.6},{"p":"d6","l":"d","e":105.3,"n":68.4},{"p":"d6","l":"d","e":105.7,"n":66.5},{"p":"d6","l":"d","e":101.5,"n":66.2},
{"p":"d7","l":"d","e":131.1,"n":79.2},{"p":"d7","l":"d","e":135.4,"n":80.7},{"p":"d7","l":"d","e":134.3,"n":78.4}]},"mark":{"type":"line","strokeWidth":0,"interpolate":"cardinal-closed","tension":0.6},"encoding":{"fill":{"field":"l","type":"nominal","legend":null},"detail":{"field":"p"},"order":{"value":null}}},
{"data":{"values":[{"e":3,"n":32},{"e":30.5,"n":2},{"e":221.2,"n":74.3},{"e":192,"n":102.8}]},"mark":{"type":"line","color":"white","strokeWidth":2.5,"strokeDash":[4.5,4.5],"interpolate":"linear-closed"},"encoding":{"order":{"value":null}}},
{"data":{"values":[{"e":0,"e2":237.3,"n":105.6,"n2":105.6},{"e":0,"e2":237.3,"n":-4,"n2":-4},{"e":0,"e2":237.3,"n":104,"n2":104},{"e":0,"e2":237.3,"n":52,"n2":52},{"e":0,"e2":237.3,"n":0,"n2":0},{"e":0,"e2":0,"n":-4,"n2":105.6},{"e":113,"e2":113,"n":-4,"n2":105.6},{"e":225,"e2":225,"n":-4,"n2":105.6},{"e":237.3,"e2":237.3,"n":-4,"n2":105.6}]},"mark":{"type":"rule","color":"#444","strokeWidth":1},"encoding":{"x2":{"field":"e2"},"y2":{"field":"n2"}}},
{"data":{"values":[{"e":223.3,"e2":223.3,"n":0.9,"n2":41.3}]},"mark":{"type":"rule","color":"#ccc","strokeWidth":1},"encoding":{"x2":{"field":"e2"},"y2":{"field":"n2"}}},
{"data":{"values":[{"e":-71.5,"e2":255.7,"n":120.4,"n2":120.4},{"e":-71.5,"e2":-71.5,"n":120.4,"n2":-76.4}]},"mark":{"type":"rule","color":"#000","strokeWidth":1.5},"encoding":{"x2":{"field":"e2"},"y2":{"field":"n2"}}},
{"data":{"values":[{"e":174.6,"e2":198.3,"n":25.8,"n2":19.8,"l":"d"},{"e":174.6,"e2":198.3,"n":19.8,"n2":13.5,"l":"m"},{"e":174.6,"e2":198.3,"n":13.5,"n2":7.1,"l":"l"}]},"mark":{"type":"rect"},"encoding":{"x2":{"field":"e2"},"y2":{"field":"n2"},"fill":{"field":"l","type":"nominal","legend":null}}},
{"data":{"values":[{"e":210.6,"n":25.8,"t":"3.67"},{"e":210.6,"n":19.5,"t":"3.26"},{"e":210.6,"n":13.1,"t":"2.86"},{"e":210.6,"n":7.1,"t":"2.45"}]},"mark":{"type":"text","fontSize":10.8,"color":"#555"},"encoding":{"text":{"field":"t"}}},
{"data":{"values":[{"e":195.1,"n":36.7,"t":"RP5"}]},"mark":{"type":"text","fontSize":10.4,"color":"#555"},"encoding":{"text":{"field":"t"}}}
]},
{"width":523,"height":416,"encoding":{"x":{"field":"h","type":"quantitative","scale":{"domain":[0,207.7],"range":[127.3,426.6],"zero":false,"nice":false},"axis":{"values":[0,22,44,66,88,110,132,154,176,198],"labelExpr":"indexof([0,66,132,198],datum.value)>=0?format(datum.value,'.2f'):''","grid":false,"domainColor":"#000","domainWidth":1.5,"tickColor":"#000","tickWidth":1.5,"tickSize":4,"labelPadding":17,"labelFontSize":20,"labelColor":"#222","labelFlush":false,"labelOverlap":false,"offset":-148.7,"title":"Distance (h)","titleX":276,"titleY":66,"titleFontSize":21.5,"titleFontWeight":"normal","titleColor":"#222","titleBaseline":"middle","titleAlign":"center","encoding":{"ticks":{"update":{"y":{"value":-4},"y2":{"value":3.5}}}}}},"y":{"field":"g","type":"quantitative","scale":{"domain":[0,0.2499],"range":[267.3,54],"zero":false,"nice":false},"axis":{"values":[0,0.0197,0.0394,0.059,0.079,0.0988,0.119,0.1383,0.158,0.178,0.1975,0.2172,0.237],"labelExpr":"indexof([0,0.059,0.119,0.178,0.237],datum.value)>=0?format(datum.value,'.3f'):''","grid":false,"domainColor":"#000","domainWidth":1.5,"tickColor":"#000","tickWidth":1.5,"tickSize":4,"labelPadding":4.3,"labelFontSize":20,"labelColor":"#222","labelFlush":false,"labelOverlap":false,"offset":-127.3,"title":"Semivariance","titleX":-86.6,"titleY":159,"titleAngle":-90,"titleFontSize":21.5,"titleFontWeight":"normal","titleColor":"#222","titleBaseline":"middle","titleAlign":"center","encoding":{"ticks":{"update":{"x":{"value":-4},"x2":{"value":3.5}}}}}}},"layer":[
{"data":{"values":[{"h":-88.3,"h2":274.3,"g":0.3126,"g2":0.3126}]},"mark":{"type":"rule","color":"#000","strokeWidth":1.5},"encoding":{"x2":{"field":"h2"},"y2":{"field":"g2"}}},
{"data":{"values":[{"h":0,"g":0.0918},{"h":2.3,"g":0.123},{"h":5.3,"g":0.1464},{"h":10,"g":0.1699},{"h":15.7,"g":0.1855},{"h":21.5,"g":0.1964},{"h":29.6,"g":0.2019},{"h":38.9,"g":0.2038},{"h":206.6,"g":0.2038}]},"mark":{"type":"line","color":"#000","strokeWidth":1.4}},
{"data":{"values":[{"h":12.7,"g":0.1679},{"h":28,"g":0.1991},{"h":45.1,"g":0.2011},{"h":63.6,"g":0.1804},{"h":81.9,"g":0.1921},{"h":99.5,"g":0.2054},{"h":116.4,"g":0.2042},{"h":134.9,"g":0.2194},{"h":153.4,"g":0.2347},{"h":170.7,"g":0.214},{"h":187.6,"g":0.2175}]},"mark":{"type":"circle","color":"#000","opacity":1,"size":216}},
{"data":{"values":[{"h":86.3,"g":0.0676,"t":"RP5"}]},"mark":{"type":"text","fontSize":21.4,"fontWeight":"bold","color":"#444"},"encoding":{"text":{"field":"t"}}},
{"data":{"values":[{"h":255.7,"g":-0.0872,"t":"D"}]},"mark":{"type":"text","font":"Liberation Serif","fontSize":29,"fontWeight":"bold","color":"#000"},"encoding":{"text":{"field":"t"}}}
]}
]}
